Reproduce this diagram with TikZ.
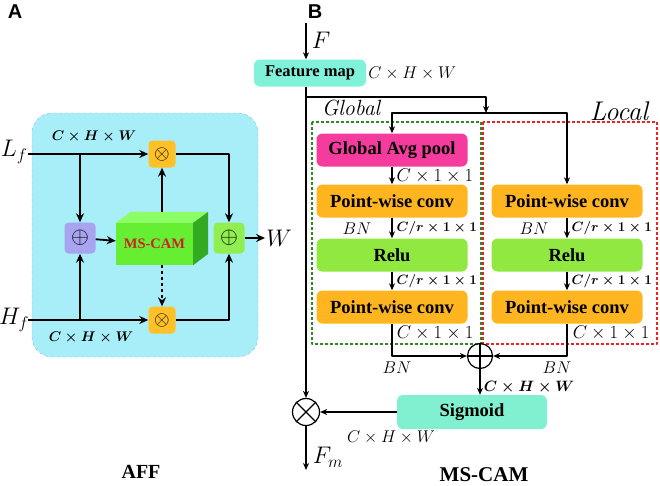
\RequirePackage{fix-cm}
\documentclass[tikz,border=0pt]{standalone}
\usepackage{fontspec}
\usetikzlibrary{arrows.meta,positioning}
\newfontfamily\tnr{Liberation Serif}
\newfontfamily\arial{Liberation Sans}
\definecolor{cyanbg}{HTML}{A8EEF8}
\definecolor{edgeblue}{HTML}{8FB8F0}
\definecolor{lilac}{HTML}{A9A4F0}
\definecolor{gold}{HTML}{FFC125}
\definecolor{lime}{HTML}{90EE50}
\definecolor{camfront}{HTML}{66EE33}
\definecolor{camtop}{HTML}{8CFF66}
\definecolor{camside}{HTML}{33AA22}
\definecolor{camred}{HTML}{CC2222}
\definecolor{aqua}{HTML}{80F2DA}
\definecolor{pinkred}{HTML}{F53C9E}
\definecolor{orng}{HTML}{FFB520}
\definecolor{relugreen}{HTML}{90E840}
\definecolor{sigaqua}{HTML}{80F0D0}
\definecolor{gdash}{HTML}{2E8B22}
\definecolor{rdash}{HTML}{EE2222}
\tikzset{
  blk/.style={rounded corners=6pt, minimum width=151pt, minimum height=33pt, inner sep=0pt, font=\tnr\bfseries\fontsize{18.5}{18.5}\selectfont},
  op/.style={rounded corners=4pt, minimum size=27pt, inner sep=0pt, font=\fontsize{20}{20}\selectfont},
  circ/.style={circle, draw, line width=1.2pt, minimum size=25pt, inner sep=0pt},
  dim/.style={font=\fontsize{17}{17}\selectfont, inner sep=1pt},
  ldim/.style={font=\fontsize{18.5}{18.5}\selectfont, inner sep=1pt},
  sdim/.style={font=\boldmath\fontsize{13.5}{13.5}\selectfont, inner sep=1pt},
  big/.style={font=\fontsize{24}{24}\selectfont, inner sep=1pt},
  title/.style={font=\tnr\bfseries\fontsize{20}{20}\selectfont},
  panel/.style={font=\arial\bfseries\fontsize{20}{20}\selectfont},
  aff/.style={line width=1.8pt, >={Stealth[length=9pt,width=8pt]}},
  net/.style={line width=1.3pt},
  frame/.style={line width=1.2pt, dash pattern=on 3pt off 2pt}
}
\begin{document}
\begin{tikzpicture}[x=1pt,y=-1pt,>={Stealth[length=7pt,width=6pt]},line join=round]
\useasboundingbox (0,0) rectangle (660,485);

% A: AFF
\node[panel] (labA) at (15,12) {A};
\draw[fill=cyanbg, draw=edgeblue, dashed, rounded corners=20pt] (32,113) rectangle (258,357);
\node[big] (Lf) at (14,152) {$L_f$};
\node[big] (Hf) at (14,320) {$H_f$};
\coordinate (lfin) at (28,154);
\coordinate (hfin) at (28,320);
\node[op, fill=gold] (mulT) at (162,154) {$\otimes$};
\node[op, fill=gold] (mulB) at (162,320) {$\otimes$};
\node[op, fill=lilac, minimum size=31pt, font=\fontsize{23}{23}\selectfont] (addL) at (80,238) {$\oplus$};
\node[op, fill=lime, minimum size=31pt, font=\fontsize{23}{23}\selectfont] (addR) at (229,238) {$\oplus$};
\node[fill=camfront, minimum width=77pt, minimum height=42pt, inner sep=0pt,
  font=\tnr\bfseries\fontsize{14.5}{14.5}\selectfont, text=camred] (cam) at (154.5,244) {MS-CAM};
\fill[camtop] (cam.north west) -- ++(15,-11) -- ++(77,0) -- (cam.north east) -- cycle;
\fill[camside] (cam.north east) -- ++(15,-11) -- ++(0,42) -- (cam.south east) -- cycle;
\node[big] (W) at (279,238) {$W$};
\node[sdim, font=\boldmath\fontsize{14}{14}\selectfont] (dimT) at (94,137) {$C\times H\times W$};
\node[sdim, font=\boldmath\fontsize{14}{14}\selectfont] (dimB) at (91,338) {$C\times H\times W$};
\draw[aff,->] (lfin) -- (mulT);
\draw[aff,->] (hfin) -- (mulB);
\draw[aff,->] (addL |- lfin) -- (addL);
\draw[aff,->] (addL |- hfin) -- (addL);
\draw[aff,->] (addL) -- (cam);
\draw[aff,->] ([yshift=11pt]mulT |- cam.north) -- (mulT);
\draw[aff,->,dashed] (mulB |- cam.south) -- (mulB);
\draw[aff,->] (mulT) -| (addR);
\draw[aff,->] (mulB) -| (addR);
\draw[aff,->] (addR) -- (W);
\node[title] (aff) at (141,472) {AFF};

% B: MS-CAM
\node[panel] (labB) at (315,12) {B};
\coordinate (Fin) at (306,23);
\node[blk, fill=aqua, minimum width=112pt, minimum height=27pt, font=\tnr\bfseries\fontsize{16.5}{16.5}\selectfont] (fmap) at (310,73) {Feature map};
\node[big] (F) at (321,40) {$F$};
\node[dim, right=1pt of fmap] (dimF) {$C\times H\times W$};
\draw[net,->] (Fin) -- (Fin |- fmap.north);

\draw[frame, gdash] (312,122) rectangle (481,344);
\draw[frame, rdash] (483,122) rectangle (657,344);
\node[font=\itshape\fontsize{22}{22}\selectfont] (glob) at (351,108) {Global};
\node[font=\itshape\fontsize{27}{27}\selectfont] (loc) at (619,111) {Local};

\node[blk, fill=pinkred] (gap) at (392,150) {Global Avg pool};
\node[blk, fill=orng] (pwG1) at (392,201) {Point-wise conv};
\node[blk, fill=relugreen] (reluG) at (392,255) {Relu};
\node[blk, fill=orng] (pwG2) at (392,307) {Point-wise conv};
\node[blk, fill=orng] (pwL1) at (567,201) {Point-wise conv};
\node[blk, fill=relugreen] (reluL) at (567,255) {Relu};
\node[blk, fill=orng] (pwL2) at (567,307) {Point-wise conv};
\node[circ] (sum) at (480,356) {};
\draw[line width=1.2pt] (sum.north) -- (sum.south) (sum.west) -- (sum.east);
\node[blk, fill=sigaqua, minimum width=150pt, minimum height=34pt] (sig) at (472,412) {Sigmoid};
\node[circ, minimum size=27pt] (mul) at (306,412) {};
\draw[line width=1.2pt] (mul.north west) -- (mul.south east) (mul.north east) -- (mul.south west);

\coordinate (fork) at (486,97);
\coordinate (bus) at (486,113);
\coordinate (out) at (306,470);
\draw[net,->] (Fin |- fmap.south) -- (mul);
\draw[net,->] (Fin |- fork) -- (fork) -- (bus);
\draw[net,->] (bus) -| (gap);
\draw[net,->] (bus) -| (pwL1);
\draw[net,->] (gap) -- node[ldim, right=3pt] {$C\times1\times1$} (pwG1);
\draw[net,->] (pwG1) -- node[sdim, right=3pt] {$C/r\times1\times1$} (reluG);
\draw[net,->] (reluG) -- node[sdim, right=3pt] {$C/r\times1\times1$} (pwG2);
\draw[net,->] (pwL1) -- node[sdim, right=3pt] {$C/r\times1\times1$} (reluL);
\draw[net,->] (reluL) -- node[sdim, right=3pt] {$C/r\times1\times1$} (pwL2);
\node[dim] (bnG1) at (357,229) {$BN$};
\node[dim] (bnL1) at (534,229) {$BN$};
\draw[net,->] (pwG2) |- (sum);
\draw[net,->] (pwL2) |- (sum);
\node[ldim] (dimG2) at (435,333) {$C\times1\times1$};
\node[ldim] (dimL2) at (611,333) {$C\times1\times1$};
\node[dim] (bnG2) at (397,368) {$BN$};
\node[dim] (bnL2) at (557,368) {$BN$};
\draw[net,->] (sum) -- (sum |- sig.north);
\node[sdim, font=\boldmath\fontsize{15}{15}\selectfont] (dimS) at (529,387) {$C\times H\times W$};
\draw[net,->] (sig) -- (mul);
\node[dim] (dimM) at (391,437) {$C\times H\times W$};
\draw[net,->] (mul) -- (out);
\node[big] (Fm) at (328,457) {$F_m$};
\node[title, font=\tnr\bfseries\fontsize{21}{21}\selectfont] (mscam) at (484,475) {MS-CAM};
\end{tikzpicture}
\end{document}
